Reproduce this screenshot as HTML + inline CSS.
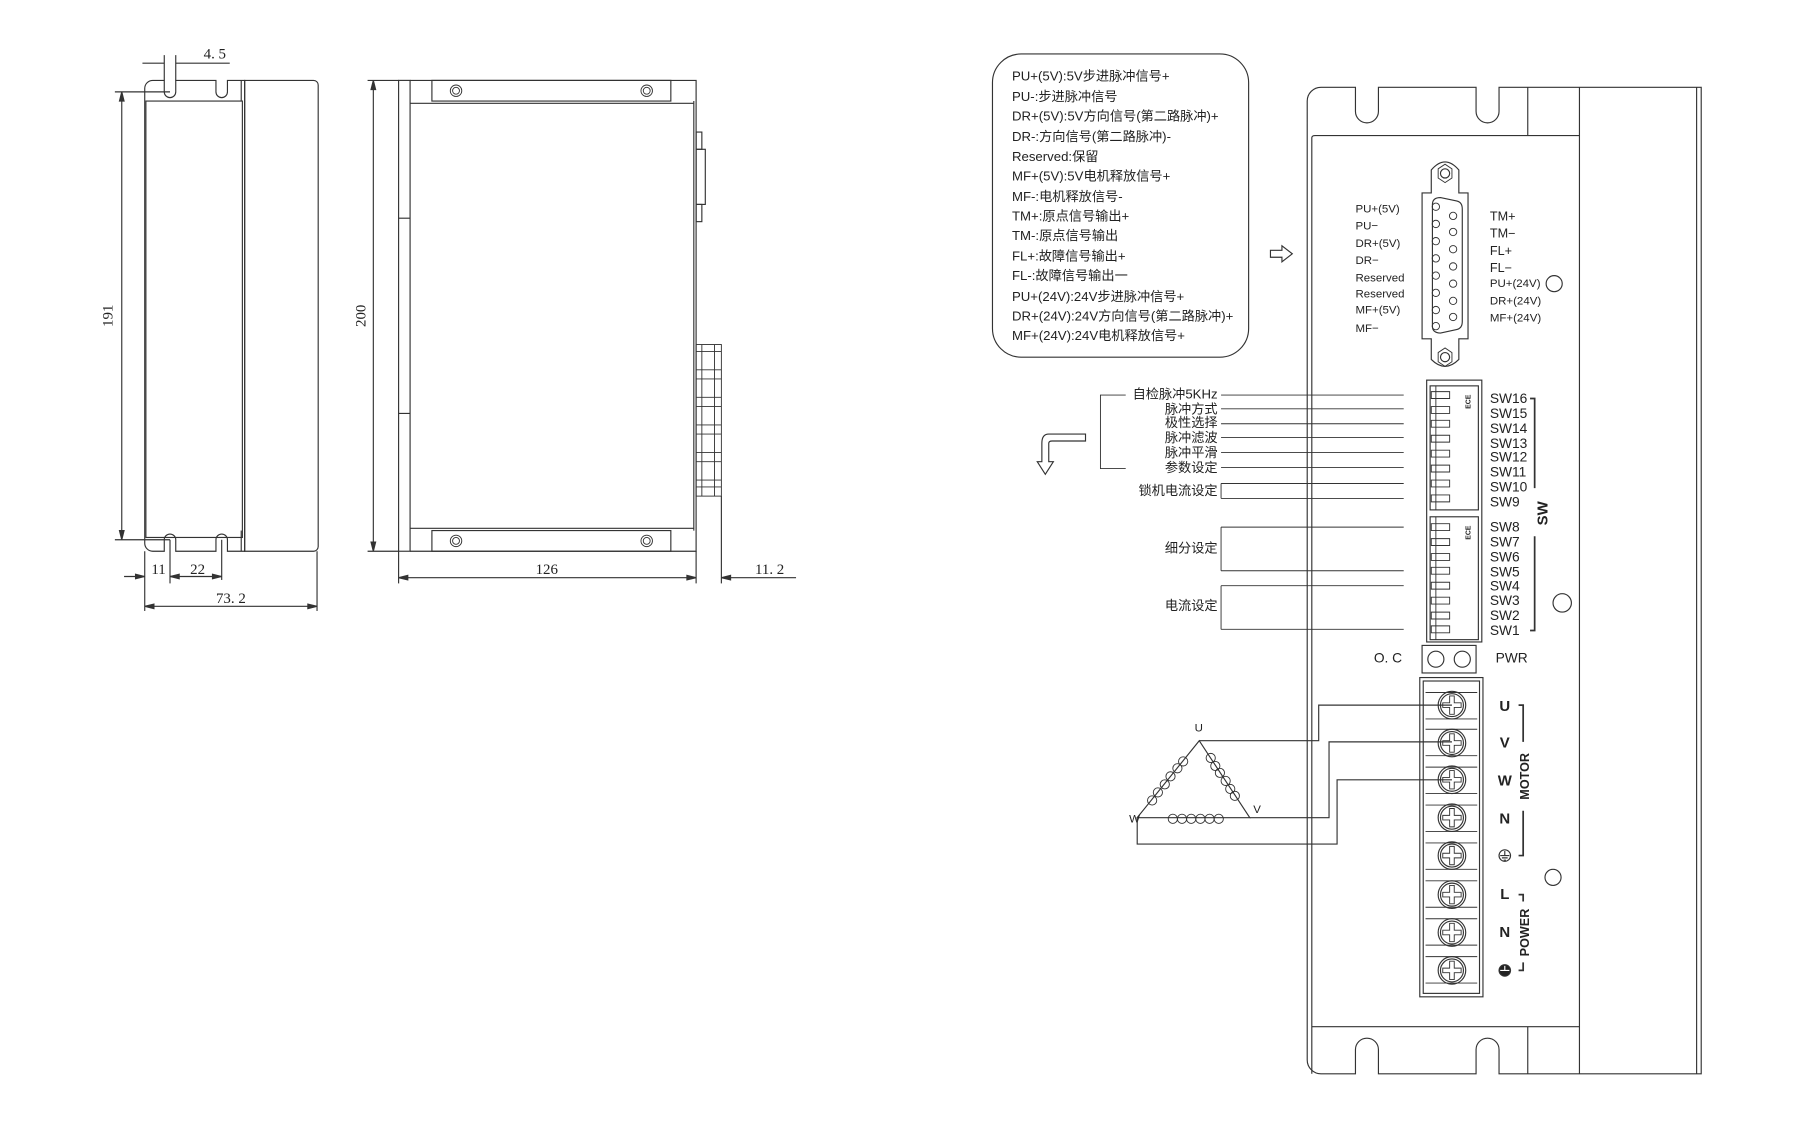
<!DOCTYPE html>
<html><head><meta charset="utf-8"><style>
html,body{margin:0;padding:0;background:#fff;}
svg{display:block}
text{font-family:"Liberation Sans","Noto Sans CJK SC",sans-serif;fill:#222}
.s{font-family:"Liberation Serif","Noto Serif CJK SC",serif}
.m{font-family:"Liberation Sans Narrow","Liberation Sans",sans-serif}
</style></head><body>
<svg width="1800" height="1122" viewBox="0 0 1567 977" preserveAspectRatio="none" xmlns="http://www.w3.org/2000/svg" fill="none" stroke="#333" stroke-width="1">
<!-- LEFT VIEW -->
<path d="M133 70 H143 V80 A5 5 0 0 0 153 80 V70 H188 V80 A5 5 0 0 0 198 80 V70 H213 V480 H198 V470 A5 5 0 0 0 188 470 V480 H153 V470 A5 5 0 0 0 143 470 V480 H133 A7 7 0 0 1 126 473 V77 A7 7 0 0 1 133 70Z"/>
<rect x="127" y="88" width="84" height="380"/>
<path d="M213 70 H273 A4 4 0 0 1 277 74 V476 A4 4 0 0 1 273 480 H213Z"/>
<line x1="210" y1="70" x2="210" y2="88"/><line x1="210" y1="462" x2="210" y2="480"/>
<!-- dims -->
<line x1="106" y1="80" x2="106" y2="470"/><line x1="100" y1="80" x2="148" y2="80"/><line x1="100" y1="470" x2="148" y2="470"/>
<path d="M106 80 l-2 8 h4z M106 470 l-2 -8 h4z" fill="#333"/>
<text x="98" y="275" class="s" font-size="13" transform="rotate(-90 98 275)" text-anchor="middle" stroke="none">191</text>
<line x1="143" y1="48" x2="143" y2="70"/><line x1="153" y1="48" x2="153" y2="70"/>
<line x1="124" y1="55" x2="143" y2="55"/><line x1="153" y1="55" x2="200" y2="55"/>
<text x="187" y="51" class="s" font-size="13" text-anchor="middle" stroke="none">4. 5</text>
<line x1="126" y1="480" x2="126" y2="532"/><line x1="276" y1="480" x2="276" y2="532"/>
<line x1="148" y1="470" x2="148" y2="508"/><line x1="193" y1="470" x2="193" y2="505"/>
<line x1="108" y1="502" x2="126" y2="502"/><line x1="148" y1="502" x2="193" y2="502"/>
<text x="138" y="500" class="s" font-size="13" text-anchor="middle" stroke="none">11</text>
<text x="172" y="500" class="s" font-size="13" text-anchor="middle" stroke="none">22</text>
<line x1="126" y1="528" x2="276" y2="528"/>
<path d="M126 528 l8 -2 v4z M276 528 l-8 -2 v4z M148 502 l8 -2 v4z M193 502 l-8 -2 v4z M126 502 l-8 -2 v4z" fill="#333"/>
<text x="201" y="525" class="s" font-size="13" text-anchor="middle" stroke="none">73. 2</text>
<!-- VIEW 2 -->
<rect x="347" y="70" width="10" height="410"/>
<line x1="347" y1="190" x2="357" y2="190"/><line x1="347" y1="360" x2="357" y2="360"/>
<path d="M357 70 H606 V480 H357"/>
<rect x="376" y="70" width="208" height="18"/><rect x="376" y="462" width="208" height="18"/>
<line x1="357" y1="90" x2="604" y2="90"/><line x1="357" y1="460" x2="604" y2="460"/>
<line x1="604" y1="88" x2="604" y2="462"/>
<g stroke-width="0.8"><circle cx="397" cy="79" r="5"/><circle cx="397" cy="79" r="3"/><circle cx="563" cy="79" r="5"/><circle cx="563" cy="79" r="3"/>
<circle cx="397" cy="471" r="5"/><circle cx="397" cy="471" r="3"/><circle cx="563" cy="471" r="5"/><circle cx="563" cy="471" r="3"/></g>
<rect x="606" y="115" width="5" height="15"/><rect x="606" y="130" width="8" height="48"/><rect x="606" y="178" width="5" height="15"/>
<g stroke-width="0.8">
<rect x="606" y="300" width="22" height="132"/>
<path d="M606 306 h22 M606 322 h22 M606 330 h22 M606 346 h22 M606 354 h22 M606 370 h22 M606 378 h22 M606 394 h22 M606 402 h22 M606 418 h22 M606 424 h22"/>
<line x1="611" y1="300" x2="611" y2="432"/><line x1="622" y1="300" x2="622" y2="432"/>
</g>
<line x1="325" y1="70" x2="325" y2="480"/><line x1="320" y1="70" x2="347" y2="70"/><line x1="320" y1="480" x2="347" y2="480"/>
<path d="M325 70 l-2 8 h4z M325 480 l-2 -8 h4z" fill="#333"/>
<text x="318" y="275" class="s" font-size="13" transform="rotate(-90 318 275)" text-anchor="middle" stroke="none">200</text>
<line x1="347" y1="480" x2="347" y2="508"/><line x1="606" y1="480" x2="606" y2="508"/><line x1="628" y1="432" x2="628" y2="508"/>
<line x1="347" y1="503" x2="606" y2="503"/><line x1="628" y1="503" x2="693" y2="503"/>
<path d="M347 503 l8 -2 v4z M606 503 l-8 -2 v4z M628 503 l8 -2 v4z" fill="#333"/>
<text x="476" y="500" class="s" font-size="13" text-anchor="middle" stroke="none">126</text>
<text x="670" y="500" class="s" font-size="13" text-anchor="middle" stroke="none">11. 2</text>
<!-- LEGEND -->
<rect x="864" y="47" width="223" height="264" rx="25"/>
<g stroke="none" font-size="11.5">
<text x="881" y="70">PU+(5V):5V步进脉冲信号+</text>
<text x="881" y="88">PU-:步进脉冲信号</text>
<text x="881" y="105">DR+(5V):5V方向信号(第二路脉冲)+</text>
<text x="881" y="123">DR-:方向信号(第二路脉冲)-</text>
<text x="881" y="140">Reserved:保留</text>
<text x="881" y="157">MF+(5V):5V电机释放信号+</text>
<text x="881" y="175">MF-:电机释放信号-</text>
<text x="881" y="192">TM+:原点信号输出+</text>
<text x="881" y="209">TM-:原点信号输出</text>
<text x="881" y="227">FL+:故障信号输出+</text>
<text x="881" y="244">FL-:故障信号输出一</text>
<text x="881" y="262">PU+(24V):24V步进脉冲信号+</text>
<text x="881" y="279">DR+(24V):24V方向信号(第二路脉冲)+</text>
<text x="881" y="296">MF+(24V):24V电机释放信号+</text>
</g>
<path d="M1106 218 h10 v-4 l9 7 l-9 7 v-4 h-10z"/>
<!-- DEVICE -->
<path d="M1150 76 H1180 V97 A10 10 0 0 0 1200 97 V76 H1285 V97 A10 10 0 0 0 1305 97 V76 H1481 V935 H1305 V914 A10 10 0 0 0 1285 914 V935 H1200 V914 A10 10 0 0 0 1180 914 V935 H1150 A12 12 0 0 1 1138 923 V88 A12 12 0 0 1 1150 76Z"/>
<line x1="1477" y1="76" x2="1477" y2="935"/>
<line x1="1330" y1="76" x2="1330" y2="118"/><line x1="1330" y1="894" x2="1330" y2="935"/>
<line x1="1375" y1="76" x2="1375" y2="935"/>
<path d="M1142 935 V120 Q1142 118 1145 118 H1375 M1142 894 H1375"/>
<!-- DB connector -->
<path d="M1246 168 V148 Q1258 134 1270 148 V168 H1278 V295 H1270 V313 Q1258 325 1246 313 V295 H1238 V168Z"/>
<path d="M1252 147 l6-4 l6 4 v8 l-6 4 l-6-4z M1252 307 l6-4 l6 4 v8 l-6 4 l-6-4z" stroke-width="0.8"/>
<circle cx="1258" cy="151" r="4"/><circle cx="1258" cy="311" r="4"/>
<path d="M1247 178 Q1247 172 1254 172 L1268 175 Q1273 176 1273 182 V280 Q1273 286 1268 287 L1254 290 Q1247 290 1247 284Z"/>
<g stroke-width="0.8">
<circle cx="1250" cy="180" r="3.2"/><circle cx="1250" cy="195" r="3.2"/><circle cx="1250" cy="210" r="3.2"/><circle cx="1250" cy="225" r="3.2"/><circle cx="1250" cy="240" r="3.2"/><circle cx="1250" cy="255" r="3.2"/><circle cx="1250" cy="270" r="3.2"/><circle cx="1250" cy="284" r="3.2"/>
<circle cx="1265" cy="188" r="3.2"/><circle cx="1265" cy="202" r="3.2"/><circle cx="1265" cy="217" r="3.2"/><circle cx="1265" cy="232" r="3.2"/><circle cx="1265" cy="247" r="3.2"/><circle cx="1265" cy="262" r="3.2"/><circle cx="1265" cy="276" r="3.2"/>
</g>
<g stroke="none" font-size="10" class="m">
<text x="1180" y="185">PU+(5V)</text><text x="1180" y="200">PU−</text><text x="1180" y="215">DR+(5V)</text><text x="1180" y="230">DR−</text>
<text x="1180" y="245">Reserved</text><text x="1180" y="259">Reserved</text><text x="1180" y="273">MF+(5V)</text><text x="1180" y="289">MF−</text>
<text x="1297" y="192" font-size="11">TM+</text><text x="1297" y="207" font-size="11">TM−</text><text x="1297" y="222" font-size="11">FL+</text><text x="1297" y="237" font-size="11">FL−</text>
<text x="1297" y="250">PU+(24V)</text><text x="1297" y="265">DR+(24V)</text><text x="1297" y="280">MF+(24V)</text>
</g>
<circle cx="1353" cy="247" r="7"/><circle cx="1360" cy="525" r="8"/><circle cx="1352" cy="764" r="7"/>
<!-- DIP -->
<rect x="1242" y="331" width="48" height="228"/>
<rect x="1245" y="336" width="42" height="108"/><rect x="1245" y="450" width="42" height="107"/>
<g stroke-width="0.8">
<line x1="1250" y1="336" x2="1250" y2="444"/><line x1="1250" y1="450" x2="1250" y2="557"/>
<path d="M1246 341h16v6h-16z M1246 354h16v6h-16z M1246 366h16v6h-16z M1246 379h16v6h-16z M1246 392h16v6h-16z M1246 405h16v6h-16z M1246 418h16v6h-16z M1246 431h16v6h-16z
M1246 456h16v6h-16z M1246 469h16v6h-16z M1246 482h16v6h-16z M1246 494h16v6h-16z M1246 507h16v6h-16z M1246 520h16v6h-16z M1246 533h16v6h-16z M1246 545h16v6h-16z"/>
</g>
<g stroke="none" font-size="6" font-weight="bold"><text transform="translate(1280 356) rotate(-90)">ECE</text><text transform="translate(1280 470) rotate(-90)">ECE</text></g>
<g stroke="none" font-size="12">
<text x="1297" y="351">SW16</text><text x="1297" y="364">SW15</text><text x="1297" y="377">SW14</text><text x="1297" y="390">SW13</text>
<text x="1297" y="402">SW12</text><text x="1297" y="415">SW11</text><text x="1297" y="428">SW10</text><text x="1297" y="441">SW9</text>
<text x="1297" y="463">SW8</text><text x="1297" y="476">SW7</text><text x="1297" y="489">SW6</text><text x="1297" y="502">SW5</text>
<text x="1297" y="514">SW4</text><text x="1297" y="527">SW3</text><text x="1297" y="540">SW2</text><text x="1297" y="553">SW1</text>
<text transform="translate(1347 447) rotate(-90)" text-anchor="middle" font-weight="bold" font-size="13">SW</text>
</g>
<path d="M1332 347 H1336 V425 M1336 467 V549 H1332" stroke-width="1.5"/>
<!-- left labels -->
<g stroke-width="0.8">
<path d="M1063 344 H1222 M1063 356 H1222 M1063 369 H1222 M1063 381 H1222 M1063 394 H1222 M1063 407 H1222 M1063 421 H1222 M1063 434 H1222 M1063 459 H1222 M1063 497 H1222 M1063 510 H1222 M1063 548 H1222"/>
<path d="M1063 421 V434 M1063 459 V497 M1063 510 V548"/>
<path d="M980 344 H958 V408 H980"/>
</g>
<path d="M945 378 H913 Q907 378 907 386 V402 H903 L910 413 L917 402 H913 V386 Q913 384 916 384 H945Z" stroke-width="1"/>
<g stroke="none" font-size="11.5" text-anchor="end">
<text x="1060" y="347">自检脉冲5KHz</text><text x="1060" y="360">脉冲方式</text><text x="1060" y="372">极性选择</text><text x="1060" y="385">脉冲滤波</text>
<text x="1060" y="398">脉冲平滑</text><text x="1060" y="411">参数设定</text><text x="1060" y="431">锁机电流设定</text>
<text x="1060" y="481">细分设定</text><text x="1060" y="531">电流设定</text>
</g>
<!-- LEDs -->
<rect x="1238" y="562" width="47" height="24"/><circle cx="1250" cy="574" r="7"/><circle cx="1273" cy="574" r="7"/>
<g stroke="none" font-size="12"><text x="1196" y="577">O. C</text><text x="1302" y="577">PWR</text></g>
<!-- terminal -->
<rect x="1236" y="590" width="55" height="278"/><rect x="1239" y="593" width="49" height="272"/>
<g stroke-width="0.8">
<path d="M1241 603 h45 M1241 626 h45 M1241 635 h45 M1241 658 h45 M1241 668 h45 M1241 691 h45 M1241 701 h45 M1241 724 h45 M1241 734 h45 M1241 757 h45 M1241 767 h45 M1241 790 h45 M1241 800 h45 M1241 823 h45 M1241 833 h45 M1241 856 h45"/>
</g>
<g id="scr">
<circle cx="1264" cy="614" r="12"/><circle cx="1264" cy="614" r="10"/>
<path d="M1262 606 h4 v6 h6 v4 h-6 v6 h-4 v-6 h-6 v-4 h6z" stroke-width="0.8"/>
</g>
<use href="#scr" y="33"/><use href="#scr" y="65"/><use href="#scr" y="98"/><use href="#scr" y="131"/><use href="#scr" y="165"/><use href="#scr" y="198"/><use href="#scr" y="231"/>
<g stroke="none" font-size="13" font-weight="bold" text-anchor="middle">
<text x="1310" y="619">U</text><text x="1310" y="651">V</text><text x="1310" y="684">W</text><text x="1310" y="717">N</text>
<text x="1310" y="783">L</text><text x="1310" y="816">N</text>
<text transform="translate(1331 676) rotate(-90)" font-size="11" text-anchor="middle">MOTOR</text>
<text transform="translate(1331 812) rotate(-90)" font-size="11" text-anchor="middle">POWER</text>
</g>
<circle cx="1310" cy="745" r="5"/><path d="M1310 741 v4 M1306 745 h8 M1307.5 747 h5 M1309 749 h2"/>
<circle cx="1310" cy="845" r="5" fill="#222"/><path d="M1306 845 h8 M1310 841 v4" stroke="#fff"/>
<path d="M1322 614 H1326 V646 M1326 706 V745 H1322 M1322 779 H1326 V785 M1326 838 V845 H1322" stroke-width="1.5"/>
<!-- motor triangle -->
<path d="M990 712 L1044 645 L1088 712 Z"/>
<g stroke-width="0.8">
<circle cx="1019" cy="676" r="4"/><circle cx="1025" cy="669" r="4"/><circle cx="1030" cy="663" r="4"/><circle cx="1014" cy="683" r="4"/><circle cx="1008" cy="690" r="4"/><circle cx="1003" cy="697" r="4"/>
<circle cx="1054" cy="660" r="4"/><circle cx="1058" cy="667" r="4"/><circle cx="1062" cy="673" r="4"/><circle cx="1067" cy="680" r="4"/><circle cx="1071" cy="687" r="4"/><circle cx="1075" cy="693" r="4"/>
<circle cx="1021" cy="713" r="4"/><circle cx="1029" cy="713" r="4"/><circle cx="1037" cy="713" r="4"/><circle cx="1045" cy="713" r="4"/><circle cx="1053" cy="713" r="4"/><circle cx="1061" cy="713" r="4"/>
</g>
<g stroke="none" font-size="10" class="m"><text x="1040" y="637">U</text><text x="983" y="716">W</text><text x="1091" y="708">V</text></g>
<path d="M1044 645 H1148 V614 H1264 M1088 712 H1157 V646 H1264 M990 712 V735 H1164 V679 H1264" stroke-width="1"/>
</svg>
</body></html>
